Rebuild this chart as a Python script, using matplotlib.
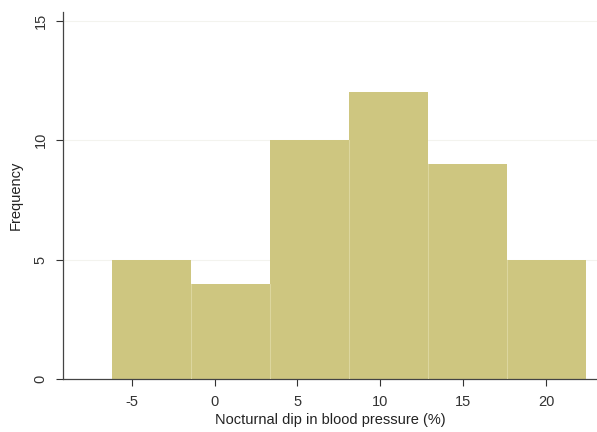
import numpy as np
import matplotlib
matplotlib.use("Agg")
import matplotlib.pyplot as plt

plt.rcParams["font.family"] = ["Liberation Sans", "DejaVu Sans"]
plt.rcParams["axes.unicode_minus"] = False

# histogram bins and counts
bin_edges = [-6.2, -1.43, 3.33, 8.1, 12.87, 17.63, 22.4]
counts = [5, 4, 10, 12, 9, 5]
x_ticks = [-5, 0, 5, 10, 15, 20]
y_ticks = [0, 5, 10, 15]

fig = plt.figure(figsize=(5.97, 4.32), dpi=100)
ax = fig.add_axes([0.105, 0.122, 0.895, 0.851])

# faint grid lines like stata
for y in y_ticks[1:]:
    ax.axhline(y, color="#f3f3ee", lw=0.8, zorder=0)

ax.stairs(counts, bin_edges, fill=True, color="#cec680", zorder=2)
for i in range(1, len(bin_edges) - 1):
    ax.plot([bin_edges[i]] * 2, [0, min(counts[i - 1], counts[i])],
            color="#dcd69e", lw=0.8, zorder=3)

ax.set_xlim(-9.16, 23.07)
ax.set_ylim(0, 15.38)
ax.set_xticks(x_ticks)
ax.set_yticks(y_ticks)
ax.set_yticklabels([str(v) for v in y_ticks], rotation=90, va="center")
ax.tick_params(labelsize=10.5, colors="#333333", length=5, width=0.8)
ax.tick_params(axis="x", pad=6)
ax.tick_params(axis="y", pad=6)
ax.spines["top"].set_visible(False)
ax.spines["right"].set_visible(False)
for s in ["left", "bottom"]:
    ax.spines[s].set_color("#444444")
    ax.spines[s].set_linewidth(0.9)

ax.set_xlabel("Nocturnal dip in blood pressure (%)", fontsize=10.5, color="#222222", labelpad=3)
ax.set_ylabel("Frequency", fontsize=10.5, color="#222222", labelpad=8)

fig.savefig("out.png", dpi=100)
